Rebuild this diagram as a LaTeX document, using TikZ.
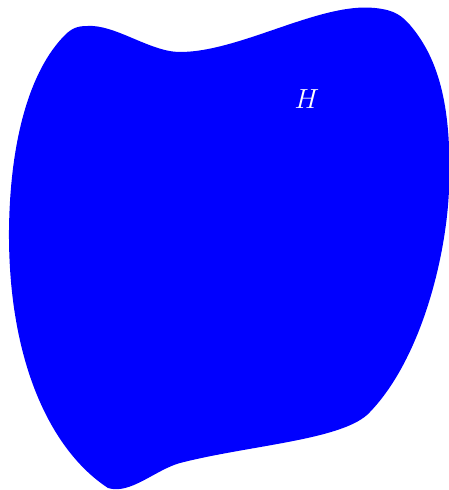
\documentclass[tikz,border=0pt]{standalone}
\begin{document}
\begin{tikzpicture}[x=0.75pt,y=-0.75pt,
  blob/.style={fill=blue,draw=none},
  lbl/.style={text=white,font=\fontsize{21}{25}\selectfont,inner sep=0pt}]
\useasboundingbox (0,0) rectangle (449,490);
\path[blob] (87,26) .. controls (115,24) and (150,52) .. (180,52)
  .. controls (240,52) and (320,2) .. (375,8)
  .. controls (395,10) and (402,16) .. (410,25)
  .. controls (440,60) and (452,110) .. (449,190)
  .. controls (446,260) and (420,360) .. (370,412)
  .. controls (345,440) and (250,445) .. (180,463)
  .. controls (155,470) and (130,495) .. (108,488)
  .. controls (50,450) and (8,360) .. (9,230)
  .. controls (10,140) and (30,70) .. (65,35)
  .. controls (72,28) and (78,26) .. (87,26) -- cycle;
\node[lbl] (h) at (307,99) {$H$};
\end{tikzpicture}
\end{document}
